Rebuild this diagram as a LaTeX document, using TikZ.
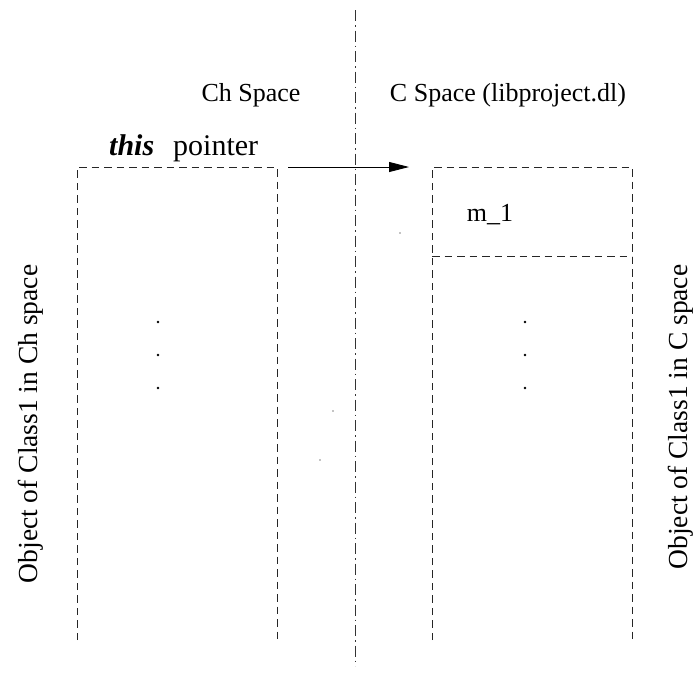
\documentclass[tikz,border=0pt]{standalone}
\usepackage{fontspec}
\setmainfont{Liberation Serif}
\usetikzlibrary{arrows.meta}
\begin{document}
\begin{tikzpicture}[x=1pt,y=-1pt,
  dashline/.style={line width=0.9pt, dash pattern=on 7.5pt off 5pt, draw=black!85},
  dashdotline/.style={line width=0.9pt, dash pattern=on 11pt off 4pt on 1.5pt off 4pt, draw=black!80},
  lbl/.style={inner sep=0pt, font=\fontsize{26}{30}\selectfont},
  vlbl/.style={inner sep=0pt, rotate=90, font=\fontsize{27.5}{30}\selectfont},
  dotmark/.style={circle, fill=black, inner sep=0pt, minimum size=2.6pt},
  tiny/.style={circle, fill=black, inner sep=0pt, minimum size=1.3pt}]
\useasboundingbox (0,0) rectangle (693,675);
% divider
\coordinate (divtop) at (355,10);
\coordinate (divbot) at (355,666);
\draw[dashdotline] (divtop) -- (divbot);
% left box (Ch space object)
\coordinate (lbl) at (77,640);
\coordinate (ltl) at (77,167);
\coordinate (ltr) at (277,167);
\coordinate (lbr) at (277,640);
\draw[dashline] (lbl) -- (ltl) -- (ltr) -- (lbr);
% right box (C space object)
\coordinate (rbl) at (432,640);
\coordinate (rtl) at (432,167);
\coordinate (rtr) at (632,167);
\coordinate (rbr) at (632,640);
\coordinate (rml) at (432,256);
\coordinate (rmr) at (632,256);
\draw[dashline] (rbl) -- (rtl) -- (rtr) -- (rbr);
\draw[dashline] (rml) -- (rmr);
% arrow
\coordinate (as) at (288,167);
\coordinate (ae) at (409,167);
\draw[line width=0.9pt, -{Triangle[length=20pt,width=10pt]}] (as) -- (ae);
% labels
\node[lbl] (chspace) at (251,95) {Ch Space};
\node[lbl] (cspace) at (508,95) {C Space (libproject.dl)};
\node[inner sep=0pt, font=\fontsize{30}{34}\selectfont, anchor=base west] (thisptr) at (109,155) {\textbf{\textit{this}}\hspace{19pt}pointer};
\node[lbl] (m1) at (490,215) {m\_1};
\node[vlbl] (lobj) at (31,424) {Object of Class1 in Ch space};
\node[vlbl] (robj) at (681,417) {Object of Class1 in C space};
% ellipsis dots
\node[dotmark] (ld1) at (158,322) {};
\node[dotmark] (ld2) at (158,355) {};
\node[dotmark] (ld3) at (158,388) {};
\node[dotmark] (rd1) at (525,322) {};
\node[dotmark] (rd2) at (525,355) {};
\node[dotmark] (rd3) at (525,388) {};
% stray specks
\node[tiny] (s1) at (400,233) {};
\node[tiny] (s2) at (333,411) {};
\node[tiny] (s3) at (320,460) {};
\end{tikzpicture}
\end{document}
